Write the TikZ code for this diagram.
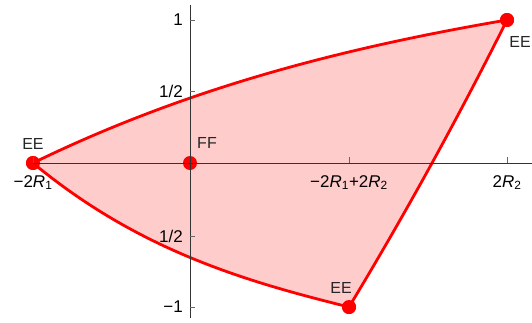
\documentclass[tikz,border=0pt]{standalone}
\usepackage{fontspec}
\setmainfont{Liberation Sans}
\usepackage{tikz}
\newcommand{\Rsub}[1]{\textit{R}\textsubscript{#1}}
\tikzset{
  axline/.style={line width=0.8pt, draw=black!80},
  axtick/.style={line width=0.8pt, draw=black!60},
  ticklbl/.style={font=\fontsize{17}{20}\selectfont, text=black, inner sep=0pt},
  vxlbl/.style={font=\fontsize{16}{19}\selectfont, text=black!85, inner sep=0pt},
  region/.style={fill=red!20},
  boundary/.style={line width=2.8pt, draw=red, line join=round},
  vertex/.style={circle, fill=red, inner sep=0pt, minimum size=14pt},
}

\begin{document}
\begin{tikzpicture}[x=1pt,y=1pt]
\useasboundingbox (-190,-159) rectangle (342,163);
\node[vertex] (eeL) at (-157,0) {};
\node[vertex] (ff) at (0,0) {};
\node[vertex] (eeB) at (159,-144) {};
\node[vertex] (eeT) at (317,143) {};
\fill[region] (eeL.center) .. controls (1,77) and (159,116) .. (eeT.center)
  .. controls (269,47) and (217,-48) .. (eeB.center)
  .. controls (54,-118) and (-52,-87) .. (eeL.center) -- cycle;
\draw[boundary] (eeL.center) .. controls (1,77) and (159,116) .. (eeT.center);
\draw[boundary] (eeT.center) .. controls (269,47) and (217,-48) .. (eeB.center);
\draw[boundary] (eeB.center) .. controls (54,-118) and (-52,-87) .. (eeL.center);
\node[vertex] at (eeL) {};
\node[vertex] at (ff) {};
\node[vertex] at (eeB) {};
\node[vertex] at (eeT) {};
\coordinate (xmax) at (342,0);
\coordinate (ymin) at (0,-155);
\coordinate (ymax) at (0,158);
\draw[axline] (eeL.center) -- (xmax);
\draw[axline] (ymin) -- (ymax);
\draw[axtick] (-157,0) -- (-157,6);
\draw[axtick] (159,0) -- (159,6);
\draw[axtick] (317,0) -- (317,6);
\draw[axtick] (0,143) -- (5,143);
\draw[axtick] (0,72) -- (5,72);
\draw[axtick] (0,-73) -- (5,-73);
\draw[axtick] (0,-144) -- (5,-144);
\node[ticklbl, anchor=north] (xl1) at (-157,-12) {−2\Rsub{1}};
\node[ticklbl, anchor=north] (xl2) at (159,-12) {−2\Rsub{1}+2\Rsub{2}};
\node[ticklbl, anchor=north] (xl3) at (317,-12) {2\Rsub{2}};
\node[ticklbl, anchor=east] (yl1) at (-7,143) {1};
\node[ticklbl, anchor=east] (yl2) at (-7,72) {1/2};
\node[ticklbl, anchor=east] (yl3) at (-7,-73) {1/2};
\node[ticklbl, anchor=east] (yl4) at (-7,-144) {−1};
\node[vxlbl] (lblL) at (-157,19) {EE};
\node[vxlbl] (lblF) at (17,20) {FF};
\node[vxlbl] (lblB) at (151,-125) {EE};
\node[vxlbl] (lblT) at (330,121) {EE};
\end{tikzpicture}
\end{document}
